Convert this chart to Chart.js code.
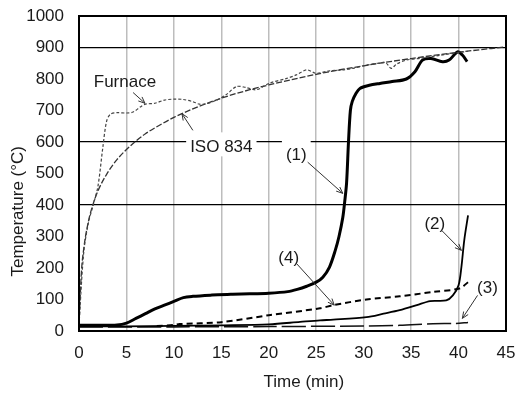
<!DOCTYPE html>
<html>
<head>
<meta charset="utf-8">
<script src="https://cdn.jsdelivr.net/npm/chart.js@4/dist/chart.umd.min.js"></script>
<style>
  html, body { margin: 0; padding: 0; background: #fff; }
  #wrap { width: 518px; height: 394px; }
</style>
</head>
<body>
<div id="wrap"><canvas id="chart"></canvas></div>
<script>
// time (min) and temperature (°C)
const furnaceTime = [0,0.5,1,1.5,2,2.5,2.9,3.3,4,5,5.7,6.5,7,8,9,10,11,12,12.7,13.5,14.5,15.5,16.6,17.6,18.7,20.1,21.9,22.9,24,25,26.4,27.8,28.9,30.3,31.5,32.3,32.9,33.5,34.5,36,38,40,41];
const furnaceTemp = [20,250,345,400,460,580,665,688,693,692,695,712,720,723,733,736,735,728,720,722,733,750,776,773,766,787,802,813,829,818,826,829,834,844,850,852,834,848,860,866,875,884,888];

const isoTime = [0,0.25,0.5,1,1.5,2,3,4,5,6,7,8,10,12,15,18,20,25,30,35,40,45];
const isoTemp = [20,185,261,349,404,445,502,544,576,603,626,645,678,705,739,766,781,815,842,865,885,902];

const c1Time = [0,2,4,5,6,7,8,9,10,11,12,14,16,18,20,22,23,24,25,25.7,26.4,27,27.4,27.8,28,28.2,28.4,28.6,28.8,29.2,29.6,30.6,31.7,33,34.5,35.4,36.2,37.1,38.3,39,39.9,40.4,40.9];
const c1Temp = [18,18,19,25,40,55,70,82,94,106,110,114,117,118,120,125,132,142,155,171,203,255,300,360,410,470,600,700,729,755,770,780,786,792,800,823,860,865,855,860,886,876,855];

const c2Time = [0,5,10,15,20,23.3,25.4,26.8,30.3,32.1,33.8,35.6,37,38.7,39.4,40,40.3,40.6,41];
const c2Temp = [15,15,16,18,21,29,34,36,44,55,66,82,95,97,113,145,203,288,367];

const c3Time = [0,10,20,30,33.8,37.3,39.7,41];
const c3Temp = [13,13,14,16,18,23,24,27];

const c4Time = [8.2,10,10.6,15,20,25.4,26.8,30.3,33.8,37.3,40.1,41];
const c4Temp = [16,19,22,28,50,72,82,100,110,124,135,155];

const xTicks = [0,5,10,15,20,25,30,35,40,45];
const yLines = [400,600,900];

const FONT = '"Liberation Sans", Arial, sans-serif';
const INK = '#1a1a1a';

function pts(t, v) {
  return t.map(function(e, i){ return {x: e, y: v[i]}; });
}

// labels and arrows, in data units: text pos, arrow from, arrow to
const notes = [
  {text:'Furnace', at:[4.84,789], from:[5.7,757], to:[6.95,723], box:false},
  {text:'ISO 834', at:[15.0,583], from:[12.0,637], to:[10.85,690], box:true},
  {text:'(1)',     at:[22.9,557], from:[24.1,536], to:[27.8,437], box:true},
  {text:'(2)',     at:[37.5,339], from:[38.2,320], to:[40.3,256], box:false},
  {text:'(3)',     at:[43.05,135], from:[42.0,113], to:[40.4,40], box:false},
  {text:'(4)',     at:[22.1,231], from:[22.9,215], to:[26.9,82], box:false}
];

const extras = {
  id: 'extras',
  afterDatasetsDraw(chart) {
    const {ctx, chartArea: a, scales: {x, y}} = chart;
    ctx.save();
    ctx.font = '17px ' + FONT;
    ctx.textAlign = 'center';
    ctx.textBaseline = 'middle';
    notes.forEach(function(n){
      const px = x.getPixelForValue(n.at[0]);
      const py = y.getPixelForValue(n.at[1]);
      if (n.box) {
        const w = ctx.measureText(n.text).width;
        ctx.fillStyle = '#fff';
        ctx.fillRect(px - w/2 - 4, py - 15, w + 8, 24);
      }
      ctx.fillStyle = INK;
      ctx.fillText(n.text, px, py);

      const x1 = x.getPixelForValue(n.from[0]), y1 = y.getPixelForValue(n.from[1]);
      const x2 = x.getPixelForValue(n.to[0]), y2 = y.getPixelForValue(n.to[1]);
      ctx.strokeStyle = '#333';
      ctx.lineWidth = 1;
      ctx.beginPath();
      ctx.moveTo(x1, y1);
      ctx.lineTo(x2, y2);
      const ang = Math.atan2(y2 - y1, x2 - x1);
      ctx.moveTo(x2, y2);
      ctx.lineTo(x2 - 7*Math.cos(ang - 0.4), y2 - 7*Math.sin(ang - 0.4));
      ctx.moveTo(x2, y2);
      ctx.lineTo(x2 - 7*Math.cos(ang + 0.4), y2 - 7*Math.sin(ang + 0.4));
      ctx.stroke();
    });

    // frame
    ctx.strokeStyle = '#000';
    ctx.lineWidth = 2;
    ctx.strokeRect(a.left, a.top, a.right - a.left, a.bottom - a.top);

    // axis titles
    ctx.fillStyle = INK;
    ctx.font = '17px ' + FONT;
    ctx.fillText('Time (min)', x.getPixelForValue(23.7), 382);
    ctx.translate(18, y.getPixelForValue(380));
    ctx.rotate(-Math.PI/2);
    ctx.fillText('Temperature (°C)', 0, 0);
    ctx.restore();
  }
};

const data = {
  datasets: [
    {label:'Furnace', data: pts(furnaceTime, furnaceTemp), borderColor:'#444', borderWidth:1.2, borderDash:[3,2], tension:0.3},
    {label:'ISO 834', data: pts(isoTime, isoTemp), borderColor:'#333', borderWidth:1.3, borderDash:[6,2], cubicInterpolationMode:'monotone'},
    {label:'(1)', data: pts(c1Time, c1Temp), borderColor:'#000', borderWidth:3, tension:0.3},
    {label:'(2)', data: pts(c2Time, c2Temp), borderColor:'#000', borderWidth:1.8, tension:0.3},
    {label:'(3)', data: pts(c3Time, c3Temp), borderColor:'#111', borderWidth:1.5, borderDash:[24,5], tension:0.3},
    {label:'(4)', data: pts(c4Time, c4Temp), borderColor:'#000', borderWidth:2, borderDash:[6,4], tension:0.3}
  ]
};

const config = {
  type: 'line',
  data: data,
  options: {
    responsive: true,
    maintainAspectRatio: false,
    animation: false,
    layout: { padding: {top: 16, right: 12, left: 0, bottom: 0} },
    elements: { point: { radius: 0 } },
    plugins: {
      legend: { display: false },
      tooltip: { enabled: false }
    },
    scales: {
      x: {
        type: 'linear',
        min: 0,
        max: 45,
        afterFit: function(s){ s.height = 63; s.paddingLeft = 0; s.paddingRight = 0; },
        afterBuildTicks: function(s){ s.ticks = xTicks.map(function(v){ return {value: v}; }); },
        border: { display: false },
        grid: {
          drawTicks: false,
          lineWidth: 1.5,
          color: function(c){ return (c.tick && c.tick.value > 0 && c.tick.value < 45) ? '#bdbdbd' : 'rgba(0,0,0,0)'; }
        },
        ticks: { color: INK, padding: 12, maxRotation: 0, font: {family: FONT, size: 17} }
      },
      y: {
        min: 0,
        max: 1000,
        afterFit: function(s){ s.width = 79; s.paddingTop = 0; s.paddingBottom = 0; },
        border: { display: false },
        grid: {
          drawTicks: false,
          lineWidth: 1.2,
          color: function(c){ return (c.tick && yLines.indexOf(c.tick.value) >= 0) ? '#000' : 'rgba(0,0,0,0)'; }
        },
        ticks: {
          stepSize: 100, color: INK, padding: 15, font: {family: FONT, size: 17},
          callback: function(v){ return String(v); }
        }
      }
    }
  },
  plugins: [extras]
};

Chart.defaults.font.family = FONT;

const myChart = new Chart(document.getElementById('chart'), config);
</script>
</body>
</html>
